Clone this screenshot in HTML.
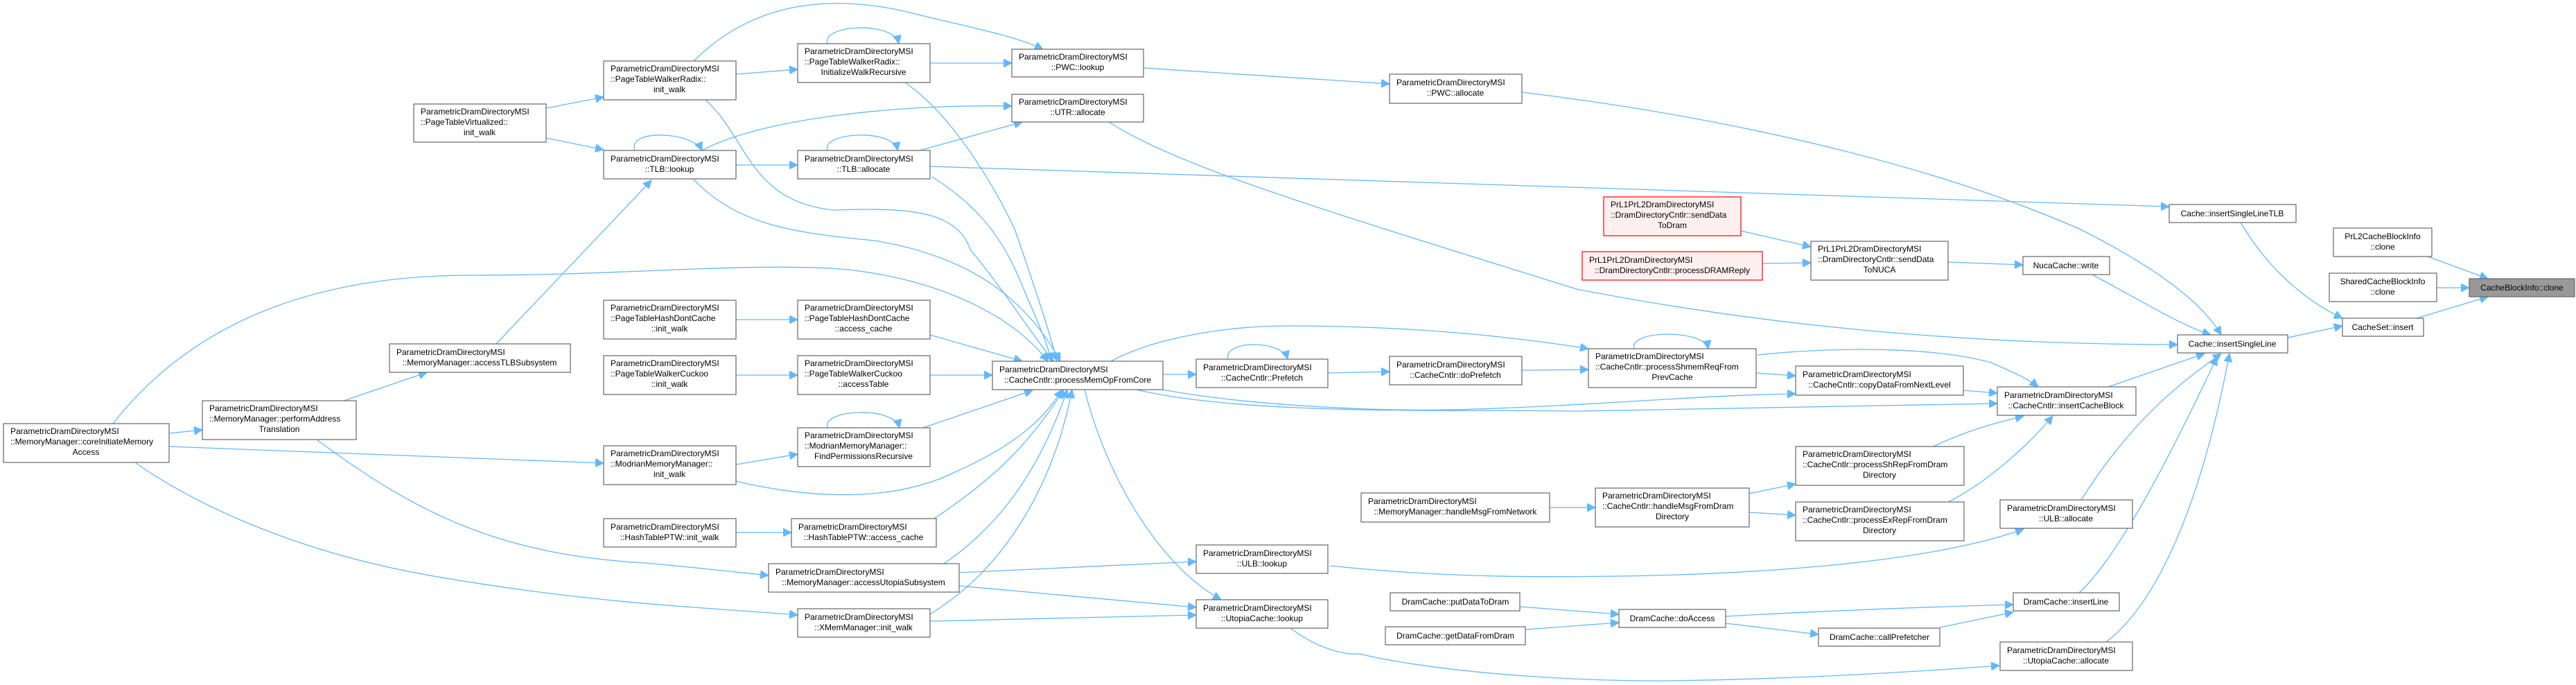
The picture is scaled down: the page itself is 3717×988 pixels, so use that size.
<!DOCTYPE html>
<html><head><meta charset="utf-8">
<style>
html,body{margin:0;padding:0;background:#fff;}
svg{display:block;}
text{font-family:"Liberation Sans",Arial,sans-serif;font-size:12px;fill:#000;}
.n{fill:#fff;stroke:#666;stroke-width:1.2;}
.r{fill:#fff0f0;stroke:#ff0000;stroke-width:1.2;}
.g{fill:#999;stroke:#666;stroke-width:1.2;}
.e{fill:none;stroke:#63b8ff;stroke-width:1.3;}
</style></head><body>
<svg width="3717" height="988" viewBox="0 0 3717 988" xmlns="http://www.w3.org/2000/svg">
<defs>
<marker id="a" markerUnits="userSpaceOnUse" markerWidth="14" markerHeight="12" refX="12" refY="6" orient="auto">
<path d="M0,0 L12,6 L0,12 z" fill="#63b8ff" stroke="#63b8ff"/>
</marker>
</defs>

<!-- EDGES -->
<g class="e" marker-end="url(#a)">
<path d="M788,156 L871,140"/>
<path d="M788,199 L871,216"/>
<path d="M1062,107 L1151,100"/>
<path d="M1001,88 C1080,10 1180,-10 1300,15 C1400,40 1460,50 1505,71"/>
<path d="M1018,144 C1080,200 1080,290 1203,303 C1300,300 1380,300 1400,360 C1450,420 1480,470 1520,521"/>
<path d="M1194,63 C1185,35 1290,30 1297,63"/>
<path d="M1342,91 L1460,91"/>
<path d="M1306,119 C1380,170 1440,280 1464,330 C1495,420 1515,480 1525,521"/>
<path d="M1650,98 L2005,121"/>
<path d="M2196,133 C2500,170 2790,238 3000,330 C3120,390 3180,440 3205,483"/>
<path d="M916,217 C905,185 1000,190 1013,217"/>
<path d="M1013,217 C1100,170 1300,150 1460,153"/>
<path d="M1062,238 L1151,238"/>
<path d="M1000,258 C1060,320 1130,335 1262,347 C1400,370 1480,430 1530,521"/>
<path d="M715,497 L940,260"/>
<path d="M1194,217 C1185,190 1290,185 1295,217"/>
<path d="M1327,217 L1475,176"/>
<path d="M1342,240 L3130,298"/>
<path d="M1345,255 C1400,290 1440,330 1470,400 C1495,460 1510,490 1517,521"/>
<path d="M1600,176 C1700,240 1900,300 2275,417 C2600,480 2900,497 3142,497"/>
<path d="M163,611 C250,500 400,397 680,397 C900,397 1050,380 1200,387 C1320,395 1450,440 1512,521"/>
<path d="M244,625 L292,620"/>
<path d="M244,644 L871,668"/>
<path d="M196,668 C300,740 450,800 620,830 C850,870 1000,875 1151,887"/>
<path d="M496,578 L616,537"/>
<path d="M457,634 C600,740 720,800 930,812 C1000,818 1060,825 1109,830"/>
<path d="M1062,461 L1151,461"/>
<path d="M1342,483 L1475,521"/>
<path d="M1062,541 L1151,541"/>
<path d="M1342,541 L1432,541"/>
<path d="M1062,670 L1151,655"/>
<path d="M1062,694 C1150,715 1280,730 1380,680 C1470,640 1510,600 1532,562"/>
<path d="M1194,617 C1185,590 1290,585 1298,617"/>
<path d="M1332,617 L1490,563"/>
<path d="M1062,768 L1142,768"/>
<path d="M1348,748 C1420,700 1480,650 1535,562"/>
<path d="M1362,813 C1440,760 1500,680 1540,562"/>
<path d="M1384,826 L1726,810"/>
<path d="M1384,845 L1726,876"/>
<path d="M1342,886 C1450,820 1520,700 1547,562"/>
<path d="M1342,896 L1726,887"/>
<path d="M1565,562 C1600,700 1680,820 1762,865"/>
<path d="M1678,540 L1726,540"/>
<path d="M1640,562 C1800,600 2100,590 2275,593 C2500,590 2700,585 2882,582"/>
<path d="M1678,562 C1800,585 2000,595 2127,590 C2300,585 2450,570 2591,568"/>
<path d="M1603,521 C1660,490 1760,470 1860,470 C2000,470 2150,480 2292,503"/>
<path d="M1772,518 C1765,490 1850,490 1858,518"/>
<path d="M1916,538 L2005,536"/>
<path d="M2196,534 L2292,533"/>
<path d="M2358,503 C2350,475 2460,475 2465,503"/>
<path d="M2536,512 C2650,500 2790,500 2873,523 C2900,535 2925,545 2941,558"/>
<path d="M2534,538 L2591,542"/>
<path d="M2833,563 L2882,567"/>
<path d="M2790,644 C2840,620 2880,610 2920,600"/>
<path d="M2811,724 C2860,700 2920,650 2962,600"/>
<path d="M3042,558 L3181,510"/>
<path d="M2236,732 L2302,732"/>
<path d="M2524,712 L2591,698"/>
<path d="M2524,739 L2591,743"/>
<path d="M1919,816 C2100,835 2250,832 2334,831 C2550,828 2790,810 2920,763"/>
<path d="M3003,721 C3080,600 3150,550 3205,510"/>
<path d="M1862,906 C1900,935 1940,945 1961,943 C2100,975 2300,982 2394,982 C2600,980 2790,967 2885,960"/>
<path d="M3039,926 C3100,880 3170,760 3217,510"/>
<path d="M2193,875 L2336,886"/>
<path d="M2201,908 L2336,898"/>
<path d="M2490,889 C2650,880 2800,875 2905,872"/>
<path d="M2490,899 L2624,915"/>
<path d="M2799,905 L2905,883"/>
<path d="M3000,855 C3060,800 3140,640 3199,515"/>
<path d="M2512,333 L2613,356"/>
<path d="M2543,380 L2613,379"/>
<path d="M2811,378 L2919,382"/>
<path d="M3019,396 C3100,440 3150,470 3190,483"/>
<path d="M3233,321 C3280,400 3340,440 3380,459"/>
<path d="M3301,487 L3380,470"/>
<path d="M3487,459 L3590,428"/>
<path d="M3503,370 L3590,402"/>
<path d="M3516,415 L3563,415"/>
</g>

<!-- NODES -->
<g>
<rect class="n" x="597" y="150" width="191" height="55"/>
<text x="607" y="165">ParametricDramDirectoryMSI</text><text x="607" y="180">::PageTableVirtualized::</text><text x="692" y="195" text-anchor="middle">init_walk</text>

<rect class="n" x="871" y="88" width="191" height="56"/>
<text x="881" y="103">ParametricDramDirectoryMSI</text><text x="881" y="118">::PageTableWalkerRadix::</text><text x="966" y="133" text-anchor="middle">init_walk</text>

<rect class="n" x="871" y="217" width="191" height="41"/>
<text x="881" y="233">ParametricDramDirectoryMSI</text><text x="966" y="248" text-anchor="middle">::TLB::lookup</text>

<rect class="n" x="871" y="433" width="191" height="56"/>
<text x="881" y="448">ParametricDramDirectoryMSI</text><text x="881" y="463">::PageTableHashDontCache</text><text x="966" y="478" text-anchor="middle">::init_walk</text>

<rect class="n" x="562" y="496" width="261" height="41"/>
<text x="572" y="512">ParametricDramDirectoryMSI</text><text x="692" y="527" text-anchor="middle">::MemoryManager::accessTLBSubsystem</text>

<rect class="n" x="5" y="611" width="239" height="56"/>
<text x="15" y="626">ParametricDramDirectoryMSI</text><text x="15" y="641">::MemoryManager::coreInitiateMemory</text><text x="124" y="656" text-anchor="middle">Access</text>

<rect class="n" x="292" y="578" width="222" height="56"/>
<text x="302" y="593">ParametricDramDirectoryMSI</text><text x="302" y="608">::MemoryManager::performAddress</text><text x="403" y="623" text-anchor="middle">Translation</text>

<rect class="n" x="871" y="513" width="191" height="56"/>
<text x="881" y="528">ParametricDramDirectoryMSI</text><text x="881" y="543">::PageTableWalkerCuckoo</text><text x="966" y="558" text-anchor="middle">::init_walk</text>

<rect class="n" x="871" y="643" width="191" height="56"/>
<text x="881" y="658">ParametricDramDirectoryMSI</text><text x="881" y="673">::ModrianMemoryManager::</text><text x="966" y="688" text-anchor="middle">init_walk</text>

<rect class="n" x="871" y="748" width="191" height="41"/>
<text x="881" y="764">ParametricDramDirectoryMSI</text><text x="966" y="779" text-anchor="middle">::HashTablePTW::init_walk</text>

<rect class="n" x="1151" y="63" width="191" height="56"/>
<text x="1161" y="78">ParametricDramDirectoryMSI</text><text x="1161" y="93">::PageTableWalkerRadix::</text><text x="1246" y="108" text-anchor="middle">InitializeWalkRecursive</text>

<rect class="n" x="1460" y="71" width="190" height="40"/>
<text x="1470" y="86">ParametricDramDirectoryMSI</text><text x="1555" y="101" text-anchor="middle">::PWC::lookup</text>

<rect class="n" x="1460" y="136" width="190" height="40"/>
<text x="1470" y="151">ParametricDramDirectoryMSI</text><text x="1555" y="166" text-anchor="middle">::UTR::allocate</text>

<rect class="n" x="1151" y="217" width="191" height="41"/>
<text x="1161" y="233">ParametricDramDirectoryMSI</text><text x="1246" y="248" text-anchor="middle">::TLB::allocate</text>

<rect class="n" x="1151" y="433" width="191" height="56"/>
<text x="1161" y="448">ParametricDramDirectoryMSI</text><text x="1161" y="463">::PageTableHashDontCache</text><text x="1246" y="478" text-anchor="middle">::access_cache</text>

<rect class="n" x="1151" y="513" width="191" height="56"/>
<text x="1161" y="528">ParametricDramDirectoryMSI</text><text x="1161" y="543">::PageTableWalkerCuckoo</text><text x="1246" y="558" text-anchor="middle">::accessTable</text>

<rect class="n" x="1432" y="521" width="246" height="41"/>
<text x="1442" y="537">ParametricDramDirectoryMSI</text><text x="1555" y="552" text-anchor="middle">::CacheCntlr::processMemOpFromCore</text>

<rect class="n" x="1726" y="518" width="190" height="41"/>
<text x="1736" y="534">ParametricDramDirectoryMSI</text><text x="1821" y="549" text-anchor="middle">::CacheCntlr::Prefetch</text>

<rect class="n" x="1151" y="617" width="191" height="56"/>
<text x="1161" y="632">ParametricDramDirectoryMSI</text><text x="1161" y="647">::ModrianMemoryManager::</text><text x="1246" y="662" text-anchor="middle">FindPermissionsRecursive</text>

<rect class="n" x="1142" y="748" width="209" height="41"/>
<text x="1152" y="764">ParametricDramDirectoryMSI</text><text x="1246" y="779" text-anchor="middle">::HashTablePTW::access_cache</text>

<rect class="n" x="1109" y="813" width="275" height="41"/>
<text x="1119" y="829">ParametricDramDirectoryMSI</text><text x="1246" y="844" text-anchor="middle">::MemoryManager::accessUtopiaSubsystem</text>

<rect class="n" x="1151" y="878" width="191" height="41"/>
<text x="1161" y="894">ParametricDramDirectoryMSI</text><text x="1246" y="909" text-anchor="middle">::XMemManager::init_walk</text>

<rect class="n" x="1726" y="786" width="190" height="41"/>
<text x="1736" y="802">ParametricDramDirectoryMSI</text><text x="1821" y="817" text-anchor="middle">::ULB::lookup</text>

<rect class="n" x="1726" y="865" width="190" height="41"/>
<text x="1736" y="881">ParametricDramDirectoryMSI</text><text x="1821" y="896" text-anchor="middle">::UtopiaCache::lookup</text>

<rect class="n" x="2005" y="107" width="191" height="42"/>
<text x="2015" y="123">ParametricDramDirectoryMSI</text><text x="2100" y="138" text-anchor="middle">::PWC::allocate</text>

<rect class="r" x="2314" y="284" width="198" height="56"/>
<text x="2324" y="299">PrL1PrL2DramDirectoryMSI</text><text x="2324" y="314">::DramDirectoryCntlr::sendData</text><text x="2413" y="329" text-anchor="middle">ToDram</text>

<rect class="r" x="2283" y="363" width="260" height="41"/>
<text x="2293" y="379">PrL1PrL2DramDirectoryMSI</text><text x="2413" y="394" text-anchor="middle">::DramDirectoryCntlr::processDRAMReply</text>

<rect class="n" x="2613" y="348" width="198" height="56"/>
<text x="2623" y="363">PrL1PrL2DramDirectoryMSI</text><text x="2623" y="378">::DramDirectoryCntlr::sendData</text><text x="2712" y="393" text-anchor="middle">ToNUCA</text>

<rect class="n" x="2005" y="514" width="191" height="41"/>
<text x="2015" y="530">ParametricDramDirectoryMSI</text><text x="2100" y="545" text-anchor="middle">::CacheCntlr::doPrefetch</text>

<rect class="n" x="2292" y="503" width="242" height="56"/>
<text x="2302" y="518">ParametricDramDirectoryMSI</text><text x="2302" y="533">::CacheCntlr::processShmemReqFrom</text><text x="2413" y="548" text-anchor="middle">PrevCache</text>

<rect class="n" x="2591" y="528" width="242" height="42"/>
<text x="2601" y="544">ParametricDramDirectoryMSI</text><text x="2712" y="559" text-anchor="middle">::CacheCntlr::copyDataFromNextLevel</text>

<rect class="n" x="1964" y="711" width="272" height="42"/>
<text x="1974" y="727">ParametricDramDirectoryMSI</text><text x="2100" y="742" text-anchor="middle">::MemoryManager::handleMsgFromNetwork</text>

<rect class="n" x="2302" y="704" width="222" height="56"/>
<text x="2312" y="719">ParametricDramDirectoryMSI</text><text x="2312" y="734">::CacheCntlr::handleMsgFromDram</text><text x="2413" y="749" text-anchor="middle">Directory</text>

<rect class="n" x="2591" y="644" width="243" height="56"/>
<text x="2601" y="659">ParametricDramDirectoryMSI</text><text x="2601" y="674">::CacheCntlr::processShRepFromDram</text><text x="2712" y="689" text-anchor="middle">Directory</text>

<rect class="n" x="2591" y="724" width="243" height="56"/>
<text x="2601" y="739">ParametricDramDirectoryMSI</text><text x="2601" y="754">::CacheCntlr::processExRepFromDram</text><text x="2712" y="769" text-anchor="middle">Directory</text>

<rect class="n" x="2006" y="855" width="187" height="26"/>
<text x="2100" y="872" text-anchor="middle">DramCache::putDataToDram</text>

<rect class="n" x="1999" y="904" width="202" height="26"/>
<text x="2100" y="921" text-anchor="middle">DramCache::getDataFromDram</text>

<rect class="n" x="2336" y="879" width="154" height="26"/>
<text x="2413" y="896" text-anchor="middle">DramCache::doAccess</text>

<rect class="n" x="2624" y="906" width="175" height="26"/>
<text x="2712" y="923" text-anchor="middle">DramCache::callPrefetcher</text>

<rect class="n" x="3130" y="295" width="183" height="26"/>
<text x="3221" y="312" text-anchor="middle">Cache::insertSingleLineTLB</text>

<rect class="n" x="3367" y="329" width="142" height="41"/>
<text x="3438" y="345" text-anchor="middle">PrL2CacheBlockInfo</text><text x="3438" y="360" text-anchor="middle">::clone</text>

<rect class="n" x="3361" y="394" width="155" height="41"/>
<text x="3438" y="410" text-anchor="middle">SharedCacheBlockInfo</text><text x="3438" y="425" text-anchor="middle">::clone</text>

<rect class="g" x="3563" y="402" width="152" height="26"/>
<text x="3639" y="419" text-anchor="middle">CacheBlockInfo::clone</text>

<rect class="n" x="3380" y="459" width="117" height="26"/>
<text x="3438" y="476" text-anchor="middle">CacheSet::insert</text>

<rect class="n" x="2919" y="370" width="125" height="26"/>
<text x="2981" y="387" text-anchor="middle">NucaCache::write</text>

<rect class="n" x="3142" y="483" width="159" height="26"/>
<text x="3221" y="500" text-anchor="middle">Cache::insertSingleLine</text>

<rect class="n" x="2882" y="558" width="200" height="41"/>
<text x="2892" y="574">ParametricDramDirectoryMSI</text><text x="2981" y="589" text-anchor="middle">::CacheCntlr::insertCacheBlock</text>

<rect class="n" x="2886" y="721" width="191" height="41"/>
<text x="2896" y="737">ParametricDramDirectoryMSI</text><text x="2981" y="752" text-anchor="middle">::ULB::allocate</text>

<rect class="n" x="2905" y="855" width="153" height="26"/>
<text x="2981" y="872" text-anchor="middle">DramCache::insertLine</text>

<rect class="n" x="2886" y="926" width="191" height="41"/>
<text x="2896" y="942">ParametricDramDirectoryMSI</text><text x="2981" y="957" text-anchor="middle">::UtopiaCache::allocate</text>
</g>
</svg>
</body></html>
